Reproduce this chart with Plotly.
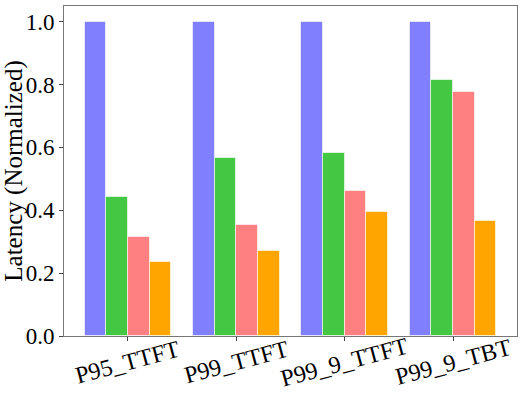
import plotly.graph_objects as go

categories = ["P95_TTFT", "P99_TTFT", "P99_9_TTFT", "P99_9_TBT"]
series_a = [1.0, 1.0, 1.0, 1.0]
series_b = [0.443, 0.565, 0.582, 0.813]
series_c = [0.316, 0.354, 0.460, 0.776]
series_d = [0.237, 0.272, 0.394, 0.365]

series = [series_a, series_b, series_c, series_d]
colors = ["#8080ff", "#44c844", "#ff8080", "#ffa500"]
offsets = [-0.3, -0.1, 0.1, 0.3]

fig = go.Figure()
for vals, color, off in zip(series, colors, offsets):
    fig.add_trace(
        go.Bar(
            x=[i + off for i in range(len(categories))],
            y=vals,
            width=0.2,
            marker=dict(color=color, line=dict(color="rgba(255,255,255,0.6)", width=1)),
            showlegend=False,
        )
    )

serif = "Liberation Serif, Times New Roman, serif"
tick_font = dict(family=serif, size=23, color="black")
xlabel_font = dict(family=serif, size=24, color="black")
title_font = dict(family=serif, size=25, color="black")

# x labels centred under the ticks, rotated like the original
for i, cat in enumerate(categories):
    fig.add_annotation(
        x=i,
        y=0,
        xref="x",
        yref="paper",
        text=cat,
        showarrow=False,
        textangle=-15,
        xanchor="center",
        yanchor="middle",
        yshift=-26,
        font=xlabel_font,
    )

fig.update_layout(
    width=532,
    height=399,
    margin=dict(l=62, r=15, t=5, b=63),
    plot_bgcolor="white",
    paper_bgcolor="white",
    font=tick_font,
    bargap=0,
    xaxis=dict(
        range=[-0.59, 3.59],
        tickvals=list(range(len(categories))),
        showticklabels=False,
        ticks="outside",
        ticklen=4,
        tickcolor="#444",
        showgrid=False,
        zeroline=False,
        showline=True,
        linecolor="#777",
        linewidth=1,
        mirror=True,
    ),
    yaxis=dict(
        range=[0, 1.05],
        tickvals=[0, 0.2, 0.4, 0.6, 0.8, 1.0],
        ticktext=["0.0", "0.2", "0.4", "0.6", "0.8", "1.0"],
        ticks="outside",
        ticklen=4,
        tickcolor="#444",
        showgrid=False,
        zeroline=False,
        showline=True,
        linecolor="#777",
        linewidth=1,
        mirror=True,
        title=dict(text="Latency (Normalized)", font=title_font, standoff=3),
        tickfont=tick_font,
    ),
)

# drop the browser's default body margin so the figure sits at the page corner
fig.write_html(
    "out.html",
    config={"displayModeBar": False},
    post_script="document.body.style.margin='0';",
)
